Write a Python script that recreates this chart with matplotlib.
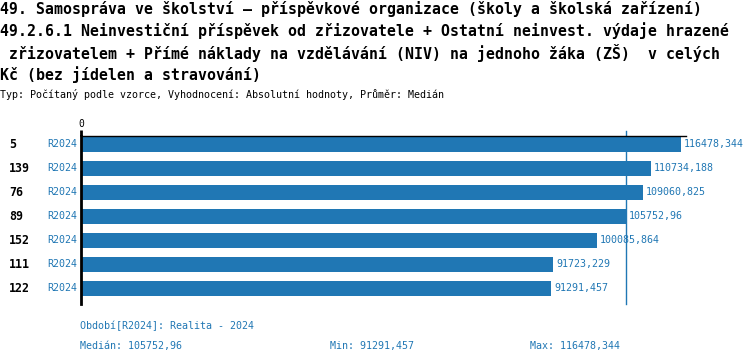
import matplotlib
matplotlib.use('Agg')
import matplotlib.pyplot as plt
import matplotlib.transforms as mtransforms

# data
ids = ['5', '139', '76', '89', '152', '111', '122']
periods = ['R2024'] * 7
values = [116478.344, 110734.188, 109060.825, 105752.96, 100085.864, 91723.229, 91291.457]
value_labels = ['116478,344', '110734,188', '109060,825', '105752,96',
                '100085,864', '91723,229', '91291,457']
median_value = 105752.96
title_lines = [
    '49. Samospráva ve školství – příspěvkové organizace (školy a školská zařízení)',
    '49.2.6.1 Neinvestiční příspěvek od zřizovatele + Ostatní neinvest. výdaje hrazené',
    ' zřizovatelem + Přímé náklady na vzdělávání (NIV) na jednoho žáka (ZŠ)  v celých',
    'Kč (bez jídelen a stravování)',
]
subtitle = 'Typ: Počítaný podle vzorce, Vyhodnocení: Absolutní hodnoty, Průměr: Medián'
footer_period = 'Období[R2024]: Realita - 2024'
footer_stats = ['Medián: 105752,96', 'Min: 91291,457', 'Max: 116478,344']

BLUE = '#2077b4'
W, H = 750, 364
MONO = 'DejaVu Sans Mono'

fig = plt.figure(figsize=(W / 100, H / 100), dpi=100)

# axes in pixel coords: x 81..686, y 136..304
left, right, top, bottom = 81, 686, 136, 304
ax = fig.add_axes([left / W, 1 - bottom / H, (right - left) / W, (bottom - top) / H])

n = len(values)
ypos = list(range(n))
ax.barh(ypos, values, height=0.625, color=BLUE)
ax.set_ylim(n - 1 + 2 / 3, -1 / 3)
ax.set_xlim(0, max(values) * (right - left) / 600)

for s in ['right', 'bottom']:
    ax.spines[s].set_visible(False)
ax.spines['left'].set_linewidth(2)
ax.spines['top'].set_linewidth(1)
ax.set_yticks([])
ax.xaxis.tick_top()
ax.set_xticks([0])
ax.set_xticklabels(['0'], fontsize=7, family=MONO)
ax.tick_params(axis='x', length=4, width=2, pad=1)

# median line
ax.axvline(median_value, ymin=0, ymax=1 + 5 / 168, color=BLUE, lw=1, clip_on=False)

# value labels
for y, v, lab in zip(ypos, values, value_labels):
    ax.annotate(lab, (v, y), xytext=(2, 0), textcoords='offset points',
                va='center', ha='left', fontsize=7.2, family=MONO, color=BLUE)

# row labels
trans = mtransforms.blended_transform_factory(fig.transFigure, ax.transData)
for y, i, p in zip(ypos, ids, periods):
    fig.text(9 / W, y, i, transform=trans, va='center', ha='left',
             fontsize=8.4, fontweight='bold', family=MONO)
    fig.text(47 / W, y, p, transform=trans, va='center', ha='left',
             fontsize=7.2, family=MONO, color=BLUE)

# title
for k, line in enumerate(title_lines):
    fig.text(0, 1 - (9 + 22 * k) / H, line, va='center', ha='left',
             fontsize=10.7, fontweight='bold', family=MONO)
fig.text(0, 1 - 95 / H, subtitle, va='center', ha='left', fontsize=7.2, family=MONO)

# footer
fig.text(80 / W, 1 - 326 / H, footer_period, va='center', ha='left',
         fontsize=7.2, family=MONO, color=BLUE)
for x, t in zip([80, 330, 530], footer_stats):
    fig.text(x / W, 1 - 346 / H, t, va='center', ha='left',
             fontsize=7.2, family=MONO, color=BLUE)

fig.savefig('out.png', dpi=100)
